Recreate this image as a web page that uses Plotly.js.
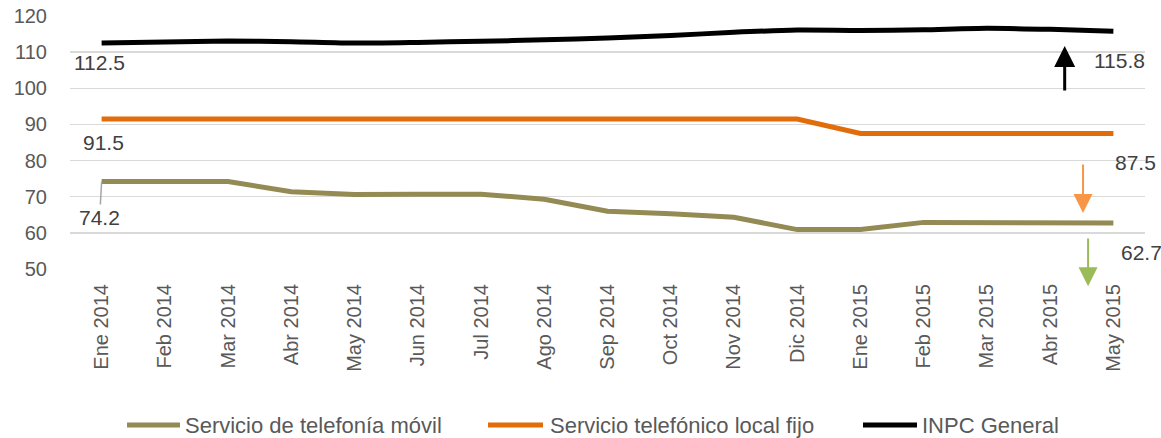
<!DOCTYPE html>
<html><head><meta charset="utf-8">
<script src="https://cdn.plot.ly/plotly-3.0.1.min.js"></script>
<style>body{margin:0;background:#fff}#c{width:1161px;height:438px}</style>
</head><body><div id="c"></div>
<script>
var categories = ["Ene 2014","Feb 2014","Mar 2014","Abr 2014","May 2014","Jun 2014","Jul 2014","Ago 2014","Sep 2014","Oct 2014","Nov 2014","Dic 2014","Ene 2015","Feb 2015","Mar 2015","Abr 2015","May 2015"];
var movil = [74.2,74.1,74.2,71.4,70.6,70.7,70.7,69.3,66.0,65.3,64.3,60.9,60.9,62.9,62.9,62.9,62.7];
var fijo  = [91.5,91.5,91.5,91.5,91.4,91.4,91.5,91.5,91.5,91.5,91.6,91.5,87.5,87.5,87.5,87.6,87.5];
var inpc  = [112.5,112.8,113.1,112.9,112.5,112.7,113.0,113.4,113.9,114.6,115.5,116.1,116.0,116.2,116.6,116.3,115.8];
var names = ["Servicio de telefonía móvil","Servicio telefónico local fijo","INPC General"];
var colors = ["#948a54","#e36c0a","#000000"];
var yTicks = [50,60,70,80,90,100,110,120];

var FONT = "'Liberation Sans', Arial, sans-serif";
var traces = [
  {x:categories, y:movil, name:names[0], mode:"lines", line:{color:colors[0], width:5}},
  {x:categories, y:fijo,  name:names[1], mode:"lines", line:{color:colors[1], width:5}},
  {x:categories, y:inpc,  name:names[2], mode:"lines", line:{color:colors[2], width:5, shape:"spline", smoothing:0.6}}
];
var last = categories.length-1;
function lab(i, v, xs, ys){
  return {x:i, y:v, xref:"x", yref:"y", text:v.toFixed(1), showarrow:false,
    xanchor:"center", yanchor:"middle", xshift:xs, yshift:ys,
    font:{family:FONT, size:21, color:"#404040"}};
}
var annotations = [
  lab(0, inpc[0], -2, -19),
  lab(0, fijo[0], 2, -23),
  {x:0, y:movil[0], xref:"x", yref:"y", text:movil[0].toFixed(1), showarrow:true, arrowhead:0,
   arrowwidth:1.5, arrowcolor:"#a6a6a6", ax:-2, ay:36, font:{family:FONT, size:21, color:"#404040"}},
  lab(last, inpc[last], 6, -29),
  lab(last, fijo[last], 22, -29),
  lab(last, movil[last], 28, -29),
  {x:15.23, y:111.7, ax:15.23, ay:99.0, axref:"x", ayref:"y", xref:"x", yref:"y", text:"", showarrow:true,
   arrowhead:2, arrowsize:1.4, arrowwidth:3, arrowcolor:"#000000"},
  {x:15.52, y:65.5, ax:15.52, ay:79.3, axref:"x", ayref:"y", xref:"x", yref:"y", text:"", showarrow:true,
   arrowhead:2, arrowsize:1.9, arrowwidth:2, arrowcolor:"#f79646"},
  {x:15.6, y:45.2, ax:15.6, ay:58.85, axref:"x", ayref:"y", xref:"x", yref:"y", text:"", showarrow:true,
   arrowhead:2, arrowsize:1.9, arrowwidth:2, arrowcolor:"#9bbb59"}
];
// custom legend (paper coords: plot spans x 70..1145 px, y 16..269 px)
var legX = [[127,180,183],[488,543,548],[863,917,920]];
var LY = (269-425)/253;
var shapes = [];
for (var i=0;i<3;i++){
  shapes.push({type:"line", xref:"paper", yref:"paper", x0:(legX[i][0]-70)/1075, x1:(legX[i][1]-70)/1075,
    y0:LY, y1:LY, line:{color:colors[i], width:5}});
  annotations.push({xref:"paper", yref:"paper", x:(legX[i][2]-70)/1075, y:LY, text:names[i], showarrow:false,
    xanchor:"left", yanchor:"middle", font:{family:FONT, size:22, color:"#595959"}});
}
var layout = {
  width:1161, height:438,
  margin:{l:70, r:16, t:16, b:169},
  paper_bgcolor:"#fff", plot_bgcolor:"#fff",
  showlegend:false,
  xaxis:{type:"category", tickangle:-90, tickfont:{family:FONT, size:20, color:"#595959"},
    showgrid:false, zeroline:false, showline:false, ticks:"", range:[-0.5, 16.5], automargin:false, ticklabelstandoff:10},
  yaxis:{range:[50,120], tickvals:yTicks, tickfont:{family:FONT, size:20, color:"#595959"},
    gridcolor:"#d9d9d9", gridwidth:1.5, zeroline:false, showline:false, ticks:"", ticklabelstandoff:22, automargin:false},
  annotations:annotations, shapes:shapes
};
Plotly.newPlot("c", traces, layout, {displayModeBar:false, staticPlot:true});
</script></body></html>
